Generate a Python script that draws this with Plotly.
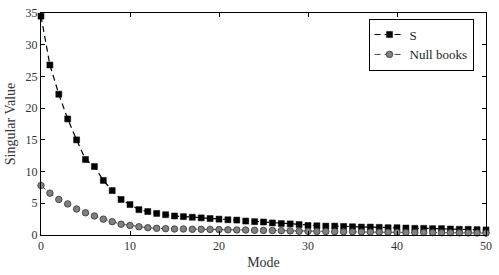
import plotly.graph_objects as go

modes = list(range(51))
s_values = [34.5, 26.8, 22.2, 18.3, 15.0, 11.9, 10.8, 8.6, 7.0, 5.6,
            4.8, 4.0, 3.7, 3.4, 3.2, 3.0, 2.9, 2.8, 2.7, 2.6,
            2.5, 2.4, 2.35, 2.2, 2.1, 2.05, 1.9, 1.8, 1.75, 1.65,
            1.5, 1.45, 1.4, 1.4, 1.35, 1.3, 1.25, 1.25, 1.2, 1.15,
            1.15, 1.1, 1.05, 1.05, 1.0, 1.0, 0.95, 0.9, 0.9, 0.85, 0.8]
null_values = [7.8, 6.6, 5.6, 4.9, 4.1, 3.5, 3.0, 2.5, 2.1, 1.7,
               1.5, 1.3, 1.15, 1.05, 1.0, 0.95, 0.95, 0.9, 0.9, 0.88,
               0.85, 0.82, 0.8, 0.78, 0.75, 0.72, 0.7, 0.68, 0.65, 0.6,
               0.58, 0.55, 0.55, 0.52, 0.5, 0.5, 0.48, 0.46, 0.45, 0.44,
               0.42, 0.41, 0.4, 0.39, 0.38, 0.36, 0.35, 0.34, 0.33, 0.32, 0.3]

font_family = "Liberation Serif, DejaVu Serif, serif"

fig = go.Figure()
fig.add_trace(go.Scatter(
    x=modes, y=s_values, name="S", mode="lines+markers",
    line=dict(color="black", width=1.2, dash="6px,4px"),
    marker=dict(symbol="square", size=6, color="black", line=dict(color="black", width=0.5)),
    cliponaxis=False,
))
fig.add_trace(go.Scatter(
    x=modes, y=null_values, name="Null books", mode="lines+markers",
    line=dict(color="#444444", width=1.0, dash="6px,4px"),
    marker=dict(symbol="circle", size=6.5, color="#808080", line=dict(color="#333333", width=0.8)),
    cliponaxis=False,
))

axis_common = dict(
    showline=True, linecolor="black", linewidth=1, mirror="allticks",
    ticks="inside", ticklen=4, tickcolor="black", showgrid=False, zeroline=False,
    automargin=False,
    tickfont=dict(family=font_family, size=12, color="#333333"),
)
fig.update_xaxes(range=[0, 50], tickvals=[0, 10, 20, 30, 40, 50],
                 title=dict(text="Mode", font=dict(family=font_family, size=14, color="#333333"), standoff=4),
                 **axis_common)
fig.update_yaxes(range=[0, 35], tickvals=[0, 5, 10, 15, 20, 25, 30, 35],
                 title=dict(text="Singular Value", font=dict(family=font_family, size=14, color="#333333"), standoff=6),
                 **axis_common)

fig.update_layout(
    width=499, height=275,
    margin=dict(l=41, r=13, t=13, b=40),
    plot_bgcolor="white", paper_bgcolor="white",
    font=dict(family=font_family),
    legend=dict(x=0.972, y=0.975, xanchor="right", yanchor="top",
                bordercolor="black", borderwidth=1, bgcolor="white",
                font=dict(family=font_family, size=13, color="#222222"),
                itemwidth=30, tracegroupgap=0),
    showlegend=True,
)

fig.write_html("out.html", config={"displayModeBar": False},
               post_script="document.body.style.margin='0px';document.body.style.overflow='hidden';")
